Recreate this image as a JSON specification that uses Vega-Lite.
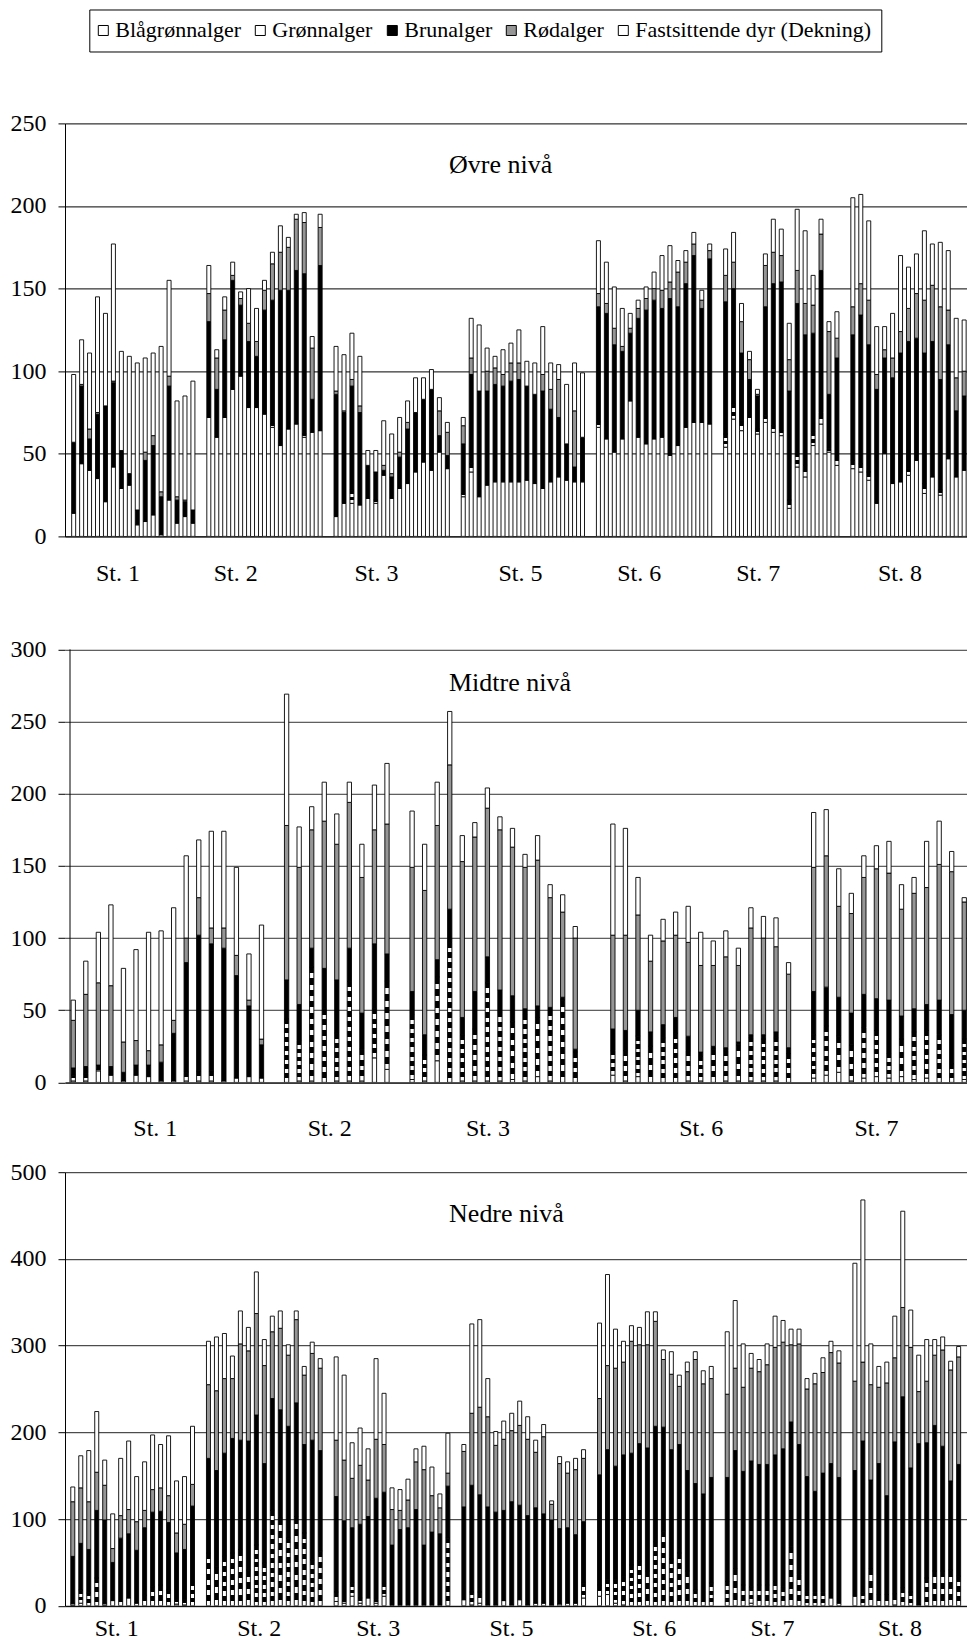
{
"$schema": "https://vega.github.io/schema/vega-lite/v6.json",
"background": "white",
"padding": {"left": 10, "top": 8.4, "right": 0, "bottom": 0},
"config": {"view": {"stroke": null}, "font": "Liberation Serif"},
"bounds": "flush",
"spacing": 89.4,
"datasets": {
"top": [
{"s":0,"k1":14,"k2":0,"k3":43,"k4":0,"k5":41},{"s":1,"k1":44,"k2":0,"k3":47,"k4":1,"k5":27},{"s":2,"k1":40,"k2":0,"k3":19,"k4":6,"k5":46},{"s":3,"k1":35,"k2":0,"k3":39,"k4":1,"k5":70},{"s":4,"k1":21,"k2":0,"k3":58,"k4":0,"k5":56},{"s":5,"k1":42,"k2":0,"k3":51,"k4":1,"k5":83},{"s":6,"k1":29,"k2":0,"k3":23,"k4":0,"k5":60},{"s":7,"k1":31,"k2":0,"k3":7,"k4":0,"k5":71},{"s":8,"k1":7,"k2":0,"k3":9,"k4":0,"k5":89},{"s":9,"k1":9,"k2":0,"k3":37,"k4":5,"k5":57},{"s":10,"k1":13,"k2":0,"k3":42,"k4":6,"k5":50},{"s":11,"k1":1,"k2":0,"k3":23,"k4":3,"k5":88},{"s":12,"k1":22,"k2":0,"k3":69,"k4":6,"k5":58},{"s":13,"k1":8,"k2":0,"k3":14,"k4":2,"k5":58},{"s":14,"k1":12,"k2":0,"k3":9,"k4":1,"k5":63},{"s":15,"k1":8,"k2":0,"k3":8,"k4":0,"k5":78},
{"s":17,"k1":72,"k2":0,"k3":58,"k4":17,"k5":17},{"s":18,"k1":60,"k2":0,"k3":29,"k4":19,"k5":5},{"s":19,"k1":72,"k2":0,"k3":47,"k4":18,"k5":8},{"s":20,"k1":89,"k2":0,"k3":66,"k4":3,"k5":8},{"s":21,"k1":97,"k2":0,"k3":43,"k4":4,"k5":4},{"s":22,"k1":78,"k2":0,"k3":40,"k4":11,"k5":21},{"s":23,"k1":78,"k2":0,"k3":31,"k4":9,"k5":20},{"s":24,"k1":74,"k2":0,"k3":63,"k4":12,"k5":6},{"s":25,"k1":66,"k2":2,"k3":75,"k4":22,"k5":7},{"s":26,"k1":55,"k2":0,"k3":94,"k4":23,"k5":16},{"s":27,"k1":65,"k2":0,"k3":84,"k4":26,"k5":6},{"s":28,"k1":68,"k2":0,"k3":93,"k4":31,"k5":3},{"s":29,"k1":60,"k2":2,"k3":97,"k4":31,"k5":6},{"s":30,"k1":63,"k2":0,"k3":20,"k4":31,"k5":7},{"s":31,"k1":64,"k2":0,"k3":100,"k4":23,"k5":8},
{"s":33,"k1":12,"k2":0,"k3":74,"k4":2,"k5":27},{"s":34,"k1":20,"k2":0,"k3":55,"k4":1,"k5":34},{"s":35,"k1":20,"k2":8,"k3":63,"k4":4,"k5":28},{"s":36,"k1":19,"k2":0,"k3":56,"k4":4,"k5":30},{"s":37,"k1":23,"k2":0,"k3":20,"k4":0,"k5":9},{"s":38,"k1":20,"k2":2,"k3":17,"k4":0,"k5":13},{"s":39,"k1":37,"k2":0,"k3":3,"k4":3,"k5":27},{"s":40,"k1":23,"k2":0,"k3":13,"k4":2,"k5":24},{"s":41,"k1":29,"k2":0,"k3":19,"k4":3,"k5":21},{"s":42,"k1":32,"k2":0,"k3":33,"k4":4,"k5":13},{"s":43,"k1":39,"k2":0,"k3":36,"k4":0,"k5":21},{"s":44,"k1":45,"k2":0,"k3":38,"k4":0,"k5":13},{"s":45,"k1":40,"k2":0,"k3":49,"k4":0,"k5":12},{"s":46,"k1":51,"k2":0,"k3":10,"k4":15,"k5":8},{"s":47,"k1":41,"k2":0,"k3":8,"k4":14,"k5":6},
{"s":49,"k1":24,"k2":2,"k3":30,"k4":11,"k5":5},{"s":50,"k1":39,"k2":5,"k3":54,"k4":10,"k5":24},{"s":51,"k1":24,"k2":0,"k3":64,"k4":0,"k5":40},{"s":52,"k1":31,"k2":0,"k3":57,"k4":12,"k5":14},{"s":53,"k1":33,"k2":0,"k3":59,"k4":10,"k5":7},{"s":54,"k1":33,"k2":0,"k3":58,"k4":7,"k5":15},{"s":55,"k1":33,"k2":0,"k3":61,"k4":11,"k5":12},{"s":56,"k1":33,"k2":0,"k3":62,"k4":10,"k5":20},{"s":57,"k1":34,"k2":0,"k3":57,"k4":0,"k5":15},{"s":58,"k1":32,"k2":0,"k3":54,"k4":0,"k5":19},{"s":59,"k1":29,"k2":0,"k3":59,"k4":10,"k5":29},{"s":60,"k1":33,"k2":0,"k3":44,"k4":12,"k5":16},{"s":61,"k1":36,"k2":0,"k3":36,"k4":23,"k5":9},{"s":62,"k1":34,"k2":0,"k3":22,"k4":0,"k5":36},{"s":63,"k1":33,"k2":0,"k3":9,"k4":34,"k5":29},{"s":64,"k1":33,"k2":0,"k3":27,"k4":0,"k5":39},
{"s":66,"k1":66,"k2":3,"k3":70,"k4":8,"k5":32},{"s":67,"k1":59,"k2":0,"k3":76,"k4":6,"k5":25},{"s":68,"k1":51,"k2":0,"k3":65,"k4":10,"k5":25},{"s":69,"k1":59,"k2":0,"k3":53,"k4":3,"k5":23},{"s":70,"k1":82,"k2":0,"k3":41,"k4":3,"k5":9},{"s":71,"k1":60,"k2":0,"k3":72,"k4":6,"k5":5},{"s":72,"k1":56,"k2":0,"k3":81,"k4":7,"k5":7},{"s":73,"k1":59,"k2":0,"k3":84,"k4":7,"k5":10},{"s":74,"k1":60,"k2":0,"k3":78,"k4":11,"k5":21},{"s":75,"k1":49,"k2":0,"k3":95,"k4":10,"k5":22},{"s":76,"k1":55,"k2":0,"k3":84,"k4":21,"k5":7},{"s":77,"k1":66,"k2":0,"k3":87,"k4":13,"k5":7},{"s":78,"k1":69,"k2":0,"k3":101,"k4":7,"k5":7},{"s":79,"k1":69,"k2":0,"k3":69,"k4":5,"k5":6},{"s":80,"k1":68,"k2":0,"k3":100,"k4":5,"k5":4},
{"s":82,"k1":54,"k2":8,"k3":80,"k4":16,"k5":16},{"s":83,"k1":71,"k2":9,"k3":70,"k4":16,"k5":18},{"s":84,"k1":64,"k2":6,"k3":41,"k4":19,"k5":11},{"s":85,"k1":72,"k2":0,"k3":23,"k4":12,"k5":5},{"s":86,"k1":62,"k2":3,"k3":20,"k4":1,"k5":3},{"s":87,"k1":69,"k2":4,"k3":66,"k4":25,"k5":7},{"s":88,"k1":63,"k2":4,"k3":86,"k4":19,"k5":20},{"s":89,"k1":61,"k2":3,"k3":90,"k4":16,"k5":16},{"s":90,"k1":17,"k2":5,"k3":66,"k4":19,"k5":22},{"s":91,"k1":42,"k2":8,"k3":91,"k4":20,"k5":37},{"s":92,"k1":36,"k2":7,"k3":79,"k4":19,"k5":44},{"s":93,"k1":55,"k2":8,"k3":60,"k4":17,"k5":18},{"s":94,"k1":68,"k2":7,"k3":86,"k4":22,"k5":9},{"s":95,"k1":51,"k2":2,"k3":33,"k4":38,"k5":6},{"s":96,"k1":43,"k2":6,"k3":59,"k4":12,"k5":16},
{"s":98,"k1":41,"k2":5,"k3":76,"k4":17,"k5":66},{"s":99,"k1":39,"k2":5,"k3":90,"k4":19,"k5":54},{"s":100,"k1":34,"k2":5,"k3":77,"k4":27,"k5":48},{"s":101,"k1":20,"k2":0,"k3":69,"k4":9,"k5":29},{"s":102,"k1":50,"k2":0,"k3":58,"k4":5,"k5":14},{"s":103,"k1":32,"k2":0,"k3":64,"k4":12,"k5":27},{"s":104,"k1":33,"k2":0,"k3":78,"k4":13,"k5":46},{"s":105,"k1":37,"k2":4,"k3":77,"k4":20,"k5":25},{"s":106,"k1":46,"k2":0,"k3":74,"k4":27,"k5":24},{"s":107,"k1":26,"k2":6,"k3":79,"k4":32,"k5":42},{"s":108,"k1":36,"k2":0,"k3":82,"k4":34,"k5":25},{"s":109,"k1":25,"k2":3,"k3":67,"k4":44,"k5":39},{"s":110,"k1":47,"k2":0,"k3":69,"k4":21,"k5":36},{"s":111,"k1":36,"k2":0,"k3":40,"k4":20,"k5":36},{"s":112,"k1":40,"k2":0,"k3":45,"k4":15,"k5":31}
],
"mid": [
{"s":0,"k1":1,"k2":4,"k3":5,"k4":33,"k5":14},{"s":1,"k1":1,"k2":5,"k3":5,"k4":50,"k5":23},{"s":2,"k1":8,"k2":1,"k3":3,"k4":57,"k5":35},{"s":3,"k1":5,"k2":0,"k3":6,"k4":56,"k5":56},{"s":4,"k1":1,"k2":0,"k3":6,"k4":21,"k5":51},{"s":5,"k1":5,"k2":0,"k3":7,"k4":17,"k5":63},{"s":6,"k1":4,"k2":0,"k3":8,"k4":10,"k5":82},{"s":7,"k1":1,"k2":0,"k3":13,"k4":12,"k5":79},{"s":8,"k1":1,"k2":0,"k3":33,"k4":9,"k5":78},{"s":9,"k1":1,"k2":6,"k3":76,"k4":17,"k5":57},{"s":10,"k1":1,"k2":7,"k3":94,"k4":26,"k5":40},{"s":11,"k1":1,"k2":7,"k3":88,"k4":11,"k5":67},{"s":12,"k1":1,"k2":0,"k3":92,"k4":14,"k5":67},{"s":13,"k1":3,"k2":0,"k3":71,"k4":14,"k5":61},{"s":14,"k1":4,"k2":0,"k3":49,"k4":4,"k5":32},{"s":15,"k1":3,"k2":0,"k3":23,"k4":4,"k5":79},
{"s":17,"k1":0,"k2":44,"k3":27,"k4":107,"k5":91},{"s":18,"k1":1,"k2":28,"k3":25,"k4":95,"k5":28},{"s":19,"k1":1,"k2":79,"k3":13,"k4":82,"k5":16},{"s":20,"k1":0,"k2":51,"k3":28,"k4":102,"k5":27},{"s":21,"k1":1,"k2":33,"k3":37,"k4":94,"k5":21},{"s":22,"k1":1,"k2":69,"k3":23,"k4":101,"k5":14},{"s":23,"k1":1,"k2":22,"k3":25,"k4":94,"k5":23},{"s":24,"k1":17,"k2":34,"k3":45,"k4":79,"k5":31},{"s":25,"k1":9,"k2":61,"k3":19,"k4":90,"k5":42},
{"s":27,"k1":2,"k2":45,"k3":16,"k4":86,"k5":39},{"s":28,"k1":1,"k2":18,"k3":14,"k4":100,"k5":32},{"s":29,"k1":15,"k2":58,"k3":12,"k4":93,"k5":30},{"s":30,"k1":0,"k2":97,"k3":23,"k4":100,"k5":37},{"s":31,"k1":1,"k2":32,"k3":12,"k4":108,"k5":18},{"s":32,"k1":1,"k2":36,"k3":26,"k4":107,"k5":10},{"s":33,"k1":1,"k2":68,"k3":18,"k4":103,"k5":14},{"s":34,"k1":1,"k2":48,"k3":15,"k4":111,"k5":9},{"s":35,"k1":2,"k2":40,"k3":18,"k4":103,"k5":13},{"s":36,"k1":1,"k2":46,"k3":4,"k4":98,"k5":9},{"s":37,"k1":4,"k2":41,"k3":8,"k4":101,"k5":17},{"s":38,"k1":1,"k2":49,"k3":2,"k4":76,"k5":9},{"s":39,"k1":0,"k2":57,"k3":2,"k4":59,"k5":12},{"s":40,"k1":0,"k2":21,"k3":2,"k4":77,"k5":8},
{"s":43,"k1":5,"k2":17,"k3":15,"k4":65,"k5":77},{"s":44,"k1":1,"k2":21,"k3":14,"k4":66,"k5":74},{"s":45,"k1":4,"k2":28,"k3":18,"k4":66,"k5":26},{"s":46,"k1":0,"k2":25,"k3":10,"k4":49,"k5":18},{"s":47,"k1":0,"k2":31,"k3":9,"k4":58,"k5":15},{"s":48,"k1":0,"k2":34,"k3":11,"k4":57,"k5":16},{"s":49,"k1":1,"k2":21,"k3":10,"k4":65,"k5":25},{"s":50,"k1":1,"k2":17,"k3":3,"k4":60,"k5":23},{"s":51,"k1":0,"k2":23,"k3":2,"k4":56,"k5":17},{"s":52,"k1":1,"k2":21,"k3":2,"k4":63,"k5":18},{"s":53,"k1":1,"k2":25,"k3":2,"k4":53,"k5":12},{"s":54,"k1":1,"k2":30,"k3":2,"k4":74,"k5":14},{"s":55,"k1":1,"k2":29,"k3":3,"k4":67,"k5":15},{"s":56,"k1":1,"k2":30,"k3":4,"k4":59,"k5":20},{"s":57,"k1":0,"k2":20,"k3":4,"k4":51,"k5":8},
{"s":59,"k1":3,"k2":30,"k3":30,"k4":86,"k5":38},{"s":60,"k1":5,"k2":34,"k3":27,"k4":91,"k5":32},{"s":61,"k1":7,"k2":25,"k3":27,"k4":63,"k5":26},{"s":62,"k1":1,"k2":25,"k3":22,"k4":69,"k5":14},{"s":63,"k1":3,"k2":35,"k3":23,"k4":81,"k5":15},{"s":64,"k1":4,"k2":32,"k3":22,"k4":90,"k5":16},{"s":65,"k1":3,"k2":17,"k3":37,"k4":88,"k5":22},{"s":66,"k1":4,"k2":26,"k3":16,"k4":74,"k5":17},{"s":67,"k1":2,"k2":33,"k3":16,"k4":80,"k5":11},{"s":68,"k1":3,"k2":33,"k3":18,"k4":81,"k5":32},{"s":69,"k1":0,"k2":33,"k3":24,"k4":94,"k5":30},{"s":70,"k1":0,"k2":13,"k3":34,"k4":99,"k5":14},{"s":71,"k1":2,"k2":28,"k3":20,"k4":75,"k5":3}
],
"bot": [
{"s":0,"k1":1,"k2":2,"k3":54,"k4":63,"k5":17},{"s":1,"k1":3,"k2":15,"k3":54,"k4":64,"k5":37},{"s":2,"k1":0,"k2":15,"k3":50,"k4":55,"k5":59},{"s":3,"k1":0,"k2":32,"k3":78,"k4":44,"k5":70},{"s":4,"k1":1,"k2":2,"k3":96,"k4":40,"k5":29},{"s":5,"k1":6,"k2":0,"k3":44,"k4":16,"k5":40},{"s":6,"k1":5,"k2":0,"k3":73,"k4":26,"k5":66},{"s":7,"k1":9,"k2":0,"k3":74,"k4":28,"k5":79},{"s":8,"k1":3,"k2":0,"k3":61,"k4":33,"k5":52},{"s":9,"k1":0,"k2":12,"k3":78,"k4":20,"k5":56},{"s":10,"k1":0,"k2":22,"k3":86,"k4":26,"k5":63},{"s":11,"k1":0,"k2":24,"k3":85,"k4":27,"k5":50},{"s":12,"k1":0,"k2":18,"k3":78,"k4":31,"k5":69},{"s":13,"k1":2,"k2":5,"k3":54,"k4":23,"k5":60},{"s":14,"k1":1,"k2":6,"k3":58,"k4":29,"k5":55},{"s":15,"k1":0,"k2":28,"k3":87,"k4":25,"k5":67},
{"s":17,"k1":0,"k2":61,"k3":109,"k4":85,"k5":50},{"s":18,"k1":0,"k2":45,"k3":111,"k4":92,"k5":62},{"s":19,"k1":0,"k2":57,"k3":119,"k4":86,"k5":52},{"s":20,"k1":0,"k2":61,"k3":132,"k4":69,"k5":26},{"s":21,"k1":0,"k2":65,"k3":126,"k4":111,"k5":38},{"s":22,"k1":0,"k2":41,"k3":149,"k4":104,"k5":27},{"s":23,"k1":0,"k2":70,"k3":150,"k4":117,"k5":48},{"s":24,"k1":0,"k2":49,"k3":115,"k4":113,"k5":30},{"s":25,"k1":0,"k2":110,"k3":129,"k4":77,"k5":18},{"s":26,"k1":0,"k2":101,"k3":125,"k4":94,"k5":20},{"s":27,"k1":0,"k2":78,"k3":129,"k4":82,"k5":12},{"s":28,"k1":0,"k2":103,"k3":131,"k4":96,"k5":10},{"s":29,"k1":0,"k2":84,"k3":102,"k4":80,"k5":10},{"s":30,"k1":0,"k2":53,"k3":138,"k4":100,"k5":13},{"s":31,"k1":0,"k2":63,"k3":116,"k4":95,"k5":11},
{"s":33,"k1":5,"k2":11,"k3":110,"k4":65,"k5":96},{"s":34,"k1":3,"k2":3,"k3":92,"k4":70,"k5":98},{"s":35,"k1":11,"k2":15,"k3":64,"k4":57,"k5":41},{"s":36,"k1":3,"k2":6,"k3":85,"k4":68,"k5":43},{"s":37,"k1":9,"k2":0,"k3":94,"k4":42,"k5":36},{"s":38,"k1":3,"k2":4,"k3":117,"k4":68,"k5":93},{"s":39,"k1":11,"k2":14,"k3":106,"k4":55,"k5":59},{"s":40,"k1":1,"k2":0,"k3":69,"k4":41,"k5":25},{"s":41,"k1":1,"k2":0,"k3":87,"k4":22,"k5":24},{"s":42,"k1":1,"k2":0,"k3":89,"k4":32,"k5":24},{"s":43,"k1":1,"k2":0,"k3":110,"k4":55,"k5":15},{"s":44,"k1":1,"k2":0,"k3":69,"k4":87,"k5":27},{"s":45,"k1":1,"k2":0,"k3":84,"k4":42,"k5":33},{"s":46,"k1":1,"k2":0,"k3":82,"k4":30,"k5":16},{"s":47,"k1":0,"k2":78,"k3":60,"k4":15,"k5":46},
{"s":49,"k1":7,"k2":0,"k3":107,"k4":64,"k5":8},{"s":50,"k1":1,"k2":15,"k3":123,"k4":83,"k5":103},{"s":51,"k1":3,"k2":13,"k3":112,"k4":101,"k5":101},{"s":52,"k1":1,"k2":0,"k3":113,"k4":104,"k5":44},{"s":53,"k1":1,"k2":0,"k3":107,"k4":77,"k5":16},{"s":54,"k1":6,"k2":0,"k3":104,"k4":82,"k5":21},{"s":55,"k1":1,"k2":0,"k3":119,"k4":82,"k5":20},{"s":56,"k1":7,"k2":0,"k3":109,"k4":92,"k5":28},{"s":57,"k1":1,"k2":0,"k3":103,"k4":88,"k5":26},{"s":58,"k1":3,"k2":0,"k3":110,"k4":64,"k5":14},{"s":59,"k1":3,"k2":0,"k3":103,"k4":89,"k5":14},{"s":60,"k1":1,"k2":0,"k3":98,"k4":18,"k5":4},{"s":61,"k1":2,"k2":0,"k3":87,"k4":75,"k5":8},{"s":62,"k1":3,"k2":0,"k3":87,"k4":63,"k5":13},{"s":63,"k1":3,"k2":0,"k3":79,"k4":75,"k5":13},{"s":64,"k1":9,"k2":17,"k3":71,"k4":73,"k5":10},
{"s":66,"k1":11,"k2":13,"k3":127,"k4":88,"k5":87},{"s":67,"k1":13,"k2":17,"k3":150,"k4":97,"k5":105},{"s":68,"k1":3,"k2":27,"k3":131,"k4":113,"k5":45},{"s":69,"k1":1,"k2":33,"k3":140,"k4":107,"k5":24},{"s":70,"k1":0,"k2":47,"k3":129,"k4":129,"k5":18},{"s":71,"k1":0,"k2":52,"k3":135,"k4":114,"k5":20},{"s":72,"k1":0,"k2":40,"k3":142,"k4":119,"k5":38},{"s":73,"k1":0,"k2":74,"k3":133,"k4":121,"k5":11},{"s":74,"k1":0,"k2":86,"k3":120,"k4":78,"k5":11},{"s":75,"k1":0,"k2":54,"k3":126,"k4":87,"k5":26},{"s":76,"k1":0,"k2":61,"k3":125,"k4":67,"k5":13},{"s":77,"k1":0,"k2":40,"k3":116,"k4":114,"k5":11},{"s":78,"k1":0,"k2":18,"k3":123,"k4":143,"k5":9},{"s":79,"k1":5,"k2":0,"k3":124,"k4":127,"k5":15},{"s":80,"k1":0,"k2":26,"k3":122,"k4":114,"k5":14},
{"s":82,"k1":0,"k2":28,"k3":120,"k4":96,"k5":72},{"s":83,"k1":0,"k2":43,"k3":136,"k4":95,"k5":78},{"s":84,"k1":0,"k2":24,"k3":131,"k4":97,"k5":50},{"s":85,"k1":3,"k2":19,"k3":145,"k4":107,"k5":17},{"s":86,"k1":0,"k2":24,"k3":139,"k4":107,"k5":14},{"s":87,"k1":0,"k2":24,"k3":139,"k4":115,"k5":24},{"s":88,"k1":0,"k2":28,"k3":146,"k4":124,"k5":36},{"s":89,"k1":0,"k2":22,"k3":159,"k4":123,"k5":25},{"s":90,"k1":0,"k2":68,"k3":144,"k4":89,"k5":18},{"s":91,"k1":0,"k2":36,"k3":150,"k4":116,"k5":17},{"s":92,"k1":0,"k2":16,"k3":133,"k4":101,"k5":12},{"s":93,"k1":0,"k2":15,"k3":117,"k4":124,"k5":12},{"s":94,"k1":0,"k2":15,"k3":138,"k4":116,"k5":17},{"s":95,"k1":9,"k2":0,"k3":155,"k4":128,"k5":13},{"s":96,"k1":3,"k2":0,"k3":145,"k4":132,"k5":14},
{"s":98,"k1":11,"k2":0,"k3":145,"k4":103,"k5":136},{"s":99,"k1":0,"k2":15,"k3":175,"k4":91,"k5":187},{"s":100,"k1":0,"k2":43,"k3":102,"k4":110,"k5":47},{"s":101,"k1":0,"k2":13,"k3":151,"k4":88,"k5":24},{"s":102,"k1":0,"k2":13,"k3":114,"k4":130,"k5":24},{"s":103,"k1":1,"k2":13,"k3":175,"k4":97,"k5":48},{"s":104,"k1":0,"k2":21,"k3":220,"k4":103,"k5":111},{"s":105,"k1":0,"k2":16,"k3":143,"k4":139,"k5":43},{"s":106,"k1":1,"k2":0,"k3":186,"k4":60,"k5":42},{"s":107,"k1":0,"k2":32,"k3":156,"k4":71,"k5":48},{"s":108,"k1":0,"k2":40,"k3":168,"k4":81,"k5":18},{"s":109,"k1":0,"k2":40,"k3":144,"k4":111,"k5":15},{"s":110,"k1":0,"k2":41,"k3":103,"k4":128,"k5":10},{"s":111,"k1":0,"k2":34,"k3":129,"k4":124,"k5":12}
]
},
"vconcat": [
{
"width": 902, "height": 413,
"layer": [
{
"data": {"name": "top"},
"transform": [{"fold": ["k1","k2","k3","k4","k5"], "as": ["kat","verdi"]}, {"filter": "datum.verdi > 0"}],
"mark": {"type": "bar", "size": 4, "stroke": "black", "strokeWidth": 0.9, "clip": true},
"encoding": {
"x": {"field": "s", "type": "quantitative", "scale": {"domain": [-0.46, 111.73], "nice": false, "zero": false},
 "axis": {"values": [5.51,20.31,38.03,56.13,71.06,86.04,103.87], "labelExpr": "datum.value < 13 ? 'St. 1' : datum.value < 30 ? 'St. 2' : datum.value < 47 ? 'St. 3' : datum.value < 64 ? 'St. 5' : datum.value < 79 ? 'St. 6' : datum.value < 95 ? 'St. 7' : 'St. 8'", "grid": false, "ticks": false, "domain": true, "domainColor": "black", "labelPadding": 25, "labelFont": "Liberation Serif", "labelFontSize": 24, "labelColor": "black", "labelFlush": false, "labelOverlap": false, "title": null}},
"y": {"field": "verdi", "type": "quantitative", "stack": "zero", "scale": {"domain": [0, 250], "nice": false},
 "axis": {"values": [0,50,100,150,200,250], "grid": true, "gridColor": "black", "gridWidth": 1, "tickSize": 7, "tickColor": "black", "domain": true, "domainColor": "black", "labelPadding": 12, "labelFont": "Liberation Serif", "labelFontSize": 24, "labelColor": "black", "labelOverlap": false, "title": null}},
"order": {"field": "kat", "sort": "ascending"},
"fill": {"field": "kat", "type": "nominal",
 "scale": {"domain": ["k1","k2","k3","k4","k5"], "range": ["#ffffff","#ffffff","#000000","#969696","#ffffff"]},
 "legend": {"orient": "none", "legendX": 24.3, "legendY": -113.9, "direction": "horizontal", "title": null,
  "labelExpr": "{'k1':'Blågrønnalger','k2':'Grønnalger','k3':'Brunalger','k4':'Rødalger','k5':'Fastsittende dyr (Dekning)'}[datum.label]",
  "symbolType": "square", "symbolSize": 100, "symbolStrokeColor": "black", "symbolStrokeWidth": 1, "symbolOffset": -7,
  "labelFont": "Liberation Serif", "labelFontSize": 22, "labelColor": "black", "labelOffset": 1, "columnPadding": 12, "padding": 10, "labelLimit": 400,
  "strokeColor": "black", "fillColor": "white"},
 "condition": [
  {"test": "datum.kat === 'k2' && datum.verdi*1.652 >= 12", "value": {"gradient": "linear", "x1": 0, "y1": 0, "x2": 0, "y2": 1, "stops": [{"offset":0,"color":"#000"},{"offset":0.275,"color":"#000"},{"offset":0.275,"color":"#fff"},{"offset":0.5,"color":"#fff"},{"offset":0.5,"color":"#000"},{"offset":0.775,"color":"#000"},{"offset":0.775,"color":"#fff"},{"offset":1,"color":"#fff"}]}},
  {"test": "datum.kat === 'k2'", "value": {"gradient": "linear", "x1": 0, "y1": 0, "x2": 0, "y2": 1, "stops": [{"offset":0,"color":"#000"},{"offset":0.55,"color":"#000"},{"offset":0.55,"color":"#fff"},{"offset":1,"color":"#fff"}]}}
 ]}
}
},
{
"data": {"values": [{}]},
"mark": {"type": "text", "align": "left", "baseline": "alphabetic", "font": "Liberation Serif", "fontSize": 26, "color": "black"},
"encoding": {"x": {"datum": 47.21, "type": "quantitative"}, "y": {"datum": 220.2, "type": "quantitative"}, "text": {"value": "Øvre nivå"}}
}
]
},
{
"width": 902, "height": 456.6,
"layer": [
{
"data": {"name": "mid"},
"transform": [{"fold": ["k1","k2","k3","k4","k5"], "as": ["kat","verdi"]}, {"filter": "datum.verdi > 0"}],
"mark": {"type": "bar", "size": 4.3, "stroke": "black", "strokeWidth": 0.9, "clip": true},
"encoding": {
"x": {"field": "s", "type": "quantitative", "scale": {"domain": [-0.26, 70.82], "nice": false, "zero": false},
 "axis": {"values": [6.5,20.4,33.0,50.0,63.96], "labelExpr": "datum.value < 13 ? 'St. 1' : datum.value < 27 ? 'St. 2' : datum.value < 42 ? 'St. 3' : datum.value < 57 ? 'St. 6' : 'St. 7'", "grid": false, "ticks": false, "domain": true, "domainColor": "black", "labelPadding": 34, "labelFont": "Liberation Serif", "labelFontSize": 24, "labelColor": "black", "labelFlush": false, "labelOverlap": false, "title": null}},
"y": {"field": "verdi", "type": "quantitative", "stack": "zero", "scale": {"domain": [0, 316.35], "nice": false},
 "axis": {"values": [0,50,100,150,200,250,300], "grid": true, "gridColor": "#333333", "gridWidth": 1, "tickSize": 7, "tickColor": "black", "domain": false, "labelPadding": 12, "labelFont": "Liberation Serif", "labelFontSize": 24, "labelColor": "black", "labelOverlap": false, "title": null}},
"order": {"field": "kat", "sort": "ascending"},
"fill": {"field": "kat", "type": "nominal",
 "scale": {"domain": ["k1","k2","k3","k4","k5"]},
 "condition": [
  {"test": "datum.kat === 'k2' && datum.verdi*1.4433 >= 115", "value": {"gradient": "linear", "x1": 0, "y1": 0, "x2": 0, "y2": 1, "stops": [{"offset":0,"color":"#000"},{"offset":0.039,"color":"#000"},{"offset":0.039,"color":"#fff"},{"offset":0.071,"color":"#fff"},{"offset":0.071,"color":"#000"},{"offset":0.11,"color":"#000"},{"offset":0.11,"color":"#fff"},{"offset":0.143,"color":"#fff"},{"offset":0.143,"color":"#000"},{"offset":0.182,"color":"#000"},{"offset":0.182,"color":"#fff"},{"offset":0.214,"color":"#fff"},{"offset":0.214,"color":"#000"},{"offset":0.253,"color":"#000"},{"offset":0.253,"color":"#fff"},{"offset":0.286,"color":"#fff"},{"offset":0.286,"color":"#000"},{"offset":0.325,"color":"#000"},{"offset":0.325,"color":"#fff"},{"offset":0.357,"color":"#fff"},{"offset":0.357,"color":"#000"},{"offset":0.396,"color":"#000"},{"offset":0.396,"color":"#fff"},{"offset":0.429,"color":"#fff"},{"offset":0.429,"color":"#000"},{"offset":0.468,"color":"#000"},{"offset":0.468,"color":"#fff"},{"offset":0.5,"color":"#fff"},{"offset":0.5,"color":"#000"},{"offset":0.539,"color":"#000"},{"offset":0.539,"color":"#fff"},{"offset":0.571,"color":"#fff"},{"offset":0.571,"color":"#000"},{"offset":0.61,"color":"#000"},{"offset":0.61,"color":"#fff"},{"offset":0.643,"color":"#fff"},{"offset":0.643,"color":"#000"},{"offset":0.682,"color":"#000"},{"offset":0.682,"color":"#fff"},{"offset":0.714,"color":"#fff"},{"offset":0.714,"color":"#000"},{"offset":0.753,"color":"#000"},{"offset":0.753,"color":"#fff"},{"offset":0.786,"color":"#fff"},{"offset":0.786,"color":"#000"},{"offset":0.825,"color":"#000"},{"offset":0.825,"color":"#fff"},{"offset":0.857,"color":"#fff"},{"offset":0.857,"color":"#000"},{"offset":0.896,"color":"#000"},{"offset":0.896,"color":"#fff"},{"offset":0.929,"color":"#fff"},{"offset":0.929,"color":"#000"},{"offset":0.968,"color":"#000"},{"offset":0.968,"color":"#fff"},{"offset":1,"color":"#fff"}]}},
  {"test": "datum.kat === 'k2' && datum.verdi*1.4433 >= 90", "value": {"gradient": "linear", "x1": 0, "y1": 0, "x2": 0, "y2": 1, "stops": [{"offset":0,"color":"#000"},{"offset":0.055,"color":"#000"},{"offset":0.055,"color":"#fff"},{"offset":0.1,"color":"#fff"},{"offset":0.1,"color":"#000"},{"offset":0.155,"color":"#000"},{"offset":0.155,"color":"#fff"},{"offset":0.2,"color":"#fff"},{"offset":0.2,"color":"#000"},{"offset":0.255,"color":"#000"},{"offset":0.255,"color":"#fff"},{"offset":0.3,"color":"#fff"},{"offset":0.3,"color":"#000"},{"offset":0.355,"color":"#000"},{"offset":0.355,"color":"#fff"},{"offset":0.4,"color":"#fff"},{"offset":0.4,"color":"#000"},{"offset":0.455,"color":"#000"},{"offset":0.455,"color":"#fff"},{"offset":0.5,"color":"#fff"},{"offset":0.5,"color":"#000"},{"offset":0.555,"color":"#000"},{"offset":0.555,"color":"#fff"},{"offset":0.6,"color":"#fff"},{"offset":0.6,"color":"#000"},{"offset":0.655,"color":"#000"},{"offset":0.655,"color":"#fff"},{"offset":0.7,"color":"#fff"},{"offset":0.7,"color":"#000"},{"offset":0.755,"color":"#000"},{"offset":0.755,"color":"#fff"},{"offset":0.8,"color":"#fff"},{"offset":0.8,"color":"#000"},{"offset":0.855,"color":"#000"},{"offset":0.855,"color":"#fff"},{"offset":0.9,"color":"#fff"},{"offset":0.9,"color":"#000"},{"offset":0.955,"color":"#000"},{"offset":0.955,"color":"#fff"},{"offset":1,"color":"#fff"}]}},
  {"test": "datum.kat === 'k2' && datum.verdi*1.4433 >= 60", "value": {"gradient": "linear", "x1": 0, "y1": 0, "x2": 0, "y2": 1, "stops": [{"offset":0,"color":"#000"},{"offset":0.079,"color":"#000"},{"offset":0.079,"color":"#fff"},{"offset":0.143,"color":"#fff"},{"offset":0.143,"color":"#000"},{"offset":0.221,"color":"#000"},{"offset":0.221,"color":"#fff"},{"offset":0.286,"color":"#fff"},{"offset":0.286,"color":"#000"},{"offset":0.364,"color":"#000"},{"offset":0.364,"color":"#fff"},{"offset":0.429,"color":"#fff"},{"offset":0.429,"color":"#000"},{"offset":0.507,"color":"#000"},{"offset":0.507,"color":"#fff"},{"offset":0.571,"color":"#fff"},{"offset":0.571,"color":"#000"},{"offset":0.65,"color":"#000"},{"offset":0.65,"color":"#fff"},{"offset":0.714,"color":"#fff"},{"offset":0.714,"color":"#000"},{"offset":0.793,"color":"#000"},{"offset":0.793,"color":"#fff"},{"offset":0.857,"color":"#fff"},{"offset":0.857,"color":"#000"},{"offset":0.936,"color":"#000"},{"offset":0.936,"color":"#fff"},{"offset":1,"color":"#fff"}]}},
  {"test": "datum.kat === 'k2' && datum.verdi*1.4433 >= 40", "value": {"gradient": "linear", "x1": 0, "y1": 0, "x2": 0, "y2": 1, "stops": [{"offset":0,"color":"#000"},{"offset":0.11,"color":"#000"},{"offset":0.11,"color":"#fff"},{"offset":0.2,"color":"#fff"},{"offset":0.2,"color":"#000"},{"offset":0.31,"color":"#000"},{"offset":0.31,"color":"#fff"},{"offset":0.4,"color":"#fff"},{"offset":0.4,"color":"#000"},{"offset":0.51,"color":"#000"},{"offset":0.51,"color":"#fff"},{"offset":0.6,"color":"#fff"},{"offset":0.6,"color":"#000"},{"offset":0.71,"color":"#000"},{"offset":0.71,"color":"#fff"},{"offset":0.8,"color":"#fff"},{"offset":0.8,"color":"#000"},{"offset":0.91,"color":"#000"},{"offset":0.91,"color":"#fff"},{"offset":1,"color":"#fff"}]}},
  {"test": "datum.kat === 'k2' && datum.verdi*1.4433 >= 22", "value": {"gradient": "linear", "x1": 0, "y1": 0, "x2": 0, "y2": 1, "stops": [{"offset":0,"color":"#000"},{"offset":0.183,"color":"#000"},{"offset":0.183,"color":"#fff"},{"offset":0.333,"color":"#fff"},{"offset":0.333,"color":"#000"},{"offset":0.517,"color":"#000"},{"offset":0.517,"color":"#fff"},{"offset":0.667,"color":"#fff"},{"offset":0.667,"color":"#000"},{"offset":0.85,"color":"#000"},{"offset":0.85,"color":"#fff"},{"offset":1,"color":"#fff"}]}},
  {"test": "datum.kat === 'k2' && datum.verdi*1.4433 >= 12", "value": {"gradient": "linear", "x1": 0, "y1": 0, "x2": 0, "y2": 1, "stops": [{"offset":0,"color":"#000"},{"offset":0.275,"color":"#000"},{"offset":0.275,"color":"#fff"},{"offset":0.5,"color":"#fff"},{"offset":0.5,"color":"#000"},{"offset":0.775,"color":"#000"},{"offset":0.775,"color":"#fff"},{"offset":1,"color":"#fff"}]}},
  {"test": "datum.kat === 'k2'", "value": {"gradient": "linear", "x1": 0, "y1": 0, "x2": 0, "y2": 1, "stops": [{"offset":0,"color":"#000"},{"offset":0.55,"color":"#000"},{"offset":0.55,"color":"#fff"},{"offset":1,"color":"#fff"}]}}
 ]}
}
},
{
"data": {"values": [{}]},
"mark": {"type": "rule", "color": "black", "strokeWidth": 1},
"encoding": {"x": {"datum": -0.26, "type": "quantitative"}, "y": {"datum": 0, "type": "quantitative"}, "y2": {"datum": 300}}
},
{
"data": {"values": [{}]},
"mark": {"type": "text", "align": "left", "baseline": "alphabetic", "font": "Liberation Serif", "fontSize": 26, "color": "black"},
"encoding": {"x": {"datum": 29.94, "type": "quantitative"}, "y": {"datum": 271.1, "type": "quantitative"}, "text": {"value": "Midtre nivå"}}
}
]
},
{
"width": 902, "height": 433.6,
"layer": [
{
"data": {"name": "bot"},
"transform": [{"fold": ["k1","k2","k3","k4","k5"], "as": ["kat","verdi"]}, {"filter": "datum.verdi > 0"}],
"mark": {"type": "bar", "size": 4, "stroke": "black", "strokeWidth": 0.9, "clip": true},
"encoding": {
"x": {"field": "s", "type": "quantitative", "scale": {"domain": [-0.35, 111.42], "nice": false, "zero": false},
 "axis": {"values": [5.44,23.3,38.2,54.9,72.8,87.6,103.6], "labelExpr": "datum.value < 13 ? 'St. 1' : datum.value < 30 ? 'St. 2' : datum.value < 47 ? 'St. 3' : datum.value < 64 ? 'St. 5' : datum.value < 79 ? 'St. 6' : datum.value < 95 ? 'St. 7' : 'St. 8'", "grid": false, "ticks": false, "domain": true, "domainColor": "black", "labelPadding": 11, "labelFont": "Liberation Serif", "labelFontSize": 24, "labelColor": "black", "labelFlush": false, "labelOverlap": false, "title": null}},
"y": {"field": "verdi", "type": "quantitative", "stack": "zero", "scale": {"domain": [0, 500], "nice": false},
 "axis": {"values": [0,100,200,300,400,500], "grid": true, "gridColor": "#222222", "gridWidth": 1, "tickSize": 7, "tickColor": "black", "domain": true, "domainColor": "black", "labelPadding": 12, "labelFont": "Liberation Serif", "labelFontSize": 24, "labelColor": "black", "labelOverlap": false, "title": null}},
"order": {"field": "kat", "sort": "ascending"},
"fill": {"field": "kat", "type": "nominal",
 "scale": {"domain": ["k1","k2","k3","k4","k5"]},
 "condition": [
  {"test": "datum.kat === 'k2' && datum.verdi*0.8672 >= 90", "value": {"gradient": "linear", "x1": 0, "y1": 0, "x2": 0, "y2": 1, "stops": [{"offset":0,"color":"#000"},{"offset":0.055,"color":"#000"},{"offset":0.055,"color":"#fff"},{"offset":0.1,"color":"#fff"},{"offset":0.1,"color":"#000"},{"offset":0.155,"color":"#000"},{"offset":0.155,"color":"#fff"},{"offset":0.2,"color":"#fff"},{"offset":0.2,"color":"#000"},{"offset":0.255,"color":"#000"},{"offset":0.255,"color":"#fff"},{"offset":0.3,"color":"#fff"},{"offset":0.3,"color":"#000"},{"offset":0.355,"color":"#000"},{"offset":0.355,"color":"#fff"},{"offset":0.4,"color":"#fff"},{"offset":0.4,"color":"#000"},{"offset":0.455,"color":"#000"},{"offset":0.455,"color":"#fff"},{"offset":0.5,"color":"#fff"},{"offset":0.5,"color":"#000"},{"offset":0.555,"color":"#000"},{"offset":0.555,"color":"#fff"},{"offset":0.6,"color":"#fff"},{"offset":0.6,"color":"#000"},{"offset":0.655,"color":"#000"},{"offset":0.655,"color":"#fff"},{"offset":0.7,"color":"#fff"},{"offset":0.7,"color":"#000"},{"offset":0.755,"color":"#000"},{"offset":0.755,"color":"#fff"},{"offset":0.8,"color":"#fff"},{"offset":0.8,"color":"#000"},{"offset":0.855,"color":"#000"},{"offset":0.855,"color":"#fff"},{"offset":0.9,"color":"#fff"},{"offset":0.9,"color":"#000"},{"offset":0.955,"color":"#000"},{"offset":0.955,"color":"#fff"},{"offset":1,"color":"#fff"}]}},
  {"test": "datum.kat === 'k2' && datum.verdi*0.8672 >= 60", "value": {"gradient": "linear", "x1": 0, "y1": 0, "x2": 0, "y2": 1, "stops": [{"offset":0,"color":"#000"},{"offset":0.079,"color":"#000"},{"offset":0.079,"color":"#fff"},{"offset":0.143,"color":"#fff"},{"offset":0.143,"color":"#000"},{"offset":0.221,"color":"#000"},{"offset":0.221,"color":"#fff"},{"offset":0.286,"color":"#fff"},{"offset":0.286,"color":"#000"},{"offset":0.364,"color":"#000"},{"offset":0.364,"color":"#fff"},{"offset":0.429,"color":"#fff"},{"offset":0.429,"color":"#000"},{"offset":0.507,"color":"#000"},{"offset":0.507,"color":"#fff"},{"offset":0.571,"color":"#fff"},{"offset":0.571,"color":"#000"},{"offset":0.65,"color":"#000"},{"offset":0.65,"color":"#fff"},{"offset":0.714,"color":"#fff"},{"offset":0.714,"color":"#000"},{"offset":0.793,"color":"#000"},{"offset":0.793,"color":"#fff"},{"offset":0.857,"color":"#fff"},{"offset":0.857,"color":"#000"},{"offset":0.936,"color":"#000"},{"offset":0.936,"color":"#fff"},{"offset":1,"color":"#fff"}]}},
  {"test": "datum.kat === 'k2' && datum.verdi*0.8672 >= 40", "value": {"gradient": "linear", "x1": 0, "y1": 0, "x2": 0, "y2": 1, "stops": [{"offset":0,"color":"#000"},{"offset":0.11,"color":"#000"},{"offset":0.11,"color":"#fff"},{"offset":0.2,"color":"#fff"},{"offset":0.2,"color":"#000"},{"offset":0.31,"color":"#000"},{"offset":0.31,"color":"#fff"},{"offset":0.4,"color":"#fff"},{"offset":0.4,"color":"#000"},{"offset":0.51,"color":"#000"},{"offset":0.51,"color":"#fff"},{"offset":0.6,"color":"#fff"},{"offset":0.6,"color":"#000"},{"offset":0.71,"color":"#000"},{"offset":0.71,"color":"#fff"},{"offset":0.8,"color":"#fff"},{"offset":0.8,"color":"#000"},{"offset":0.91,"color":"#000"},{"offset":0.91,"color":"#fff"},{"offset":1,"color":"#fff"}]}},
  {"test": "datum.kat === 'k2' && datum.verdi*0.8672 >= 22", "value": {"gradient": "linear", "x1": 0, "y1": 0, "x2": 0, "y2": 1, "stops": [{"offset":0,"color":"#000"},{"offset":0.183,"color":"#000"},{"offset":0.183,"color":"#fff"},{"offset":0.333,"color":"#fff"},{"offset":0.333,"color":"#000"},{"offset":0.517,"color":"#000"},{"offset":0.517,"color":"#fff"},{"offset":0.667,"color":"#fff"},{"offset":0.667,"color":"#000"},{"offset":0.85,"color":"#000"},{"offset":0.85,"color":"#fff"},{"offset":1,"color":"#fff"}]}},
  {"test": "datum.kat === 'k2' && datum.verdi*0.8672 >= 12", "value": {"gradient": "linear", "x1": 0, "y1": 0, "x2": 0, "y2": 1, "stops": [{"offset":0,"color":"#000"},{"offset":0.275,"color":"#000"},{"offset":0.275,"color":"#fff"},{"offset":0.5,"color":"#fff"},{"offset":0.5,"color":"#000"},{"offset":0.775,"color":"#000"},{"offset":0.775,"color":"#fff"},{"offset":1,"color":"#fff"}]}},
  {"test": "datum.kat === 'k2'", "value": {"gradient": "linear", "x1": 0, "y1": 0, "x2": 0, "y2": 1, "stops": [{"offset":0,"color":"#000"},{"offset":0.55,"color":"#000"},{"offset":0.55,"color":"#fff"},{"offset":1,"color":"#fff"}]}}
 ]}
}
},
{
"data": {"values": [{}]},
"mark": {"type": "text", "align": "left", "baseline": "alphabetic", "font": "Liberation Serif", "fontSize": 26, "color": "black"},
"encoding": {"x": {"datum": 47.15, "type": "quantitative"}, "y": {"datum": 442.3, "type": "quantitative"}, "text": {"value": "Nedre nivå"}}
}
]
}
]
}
